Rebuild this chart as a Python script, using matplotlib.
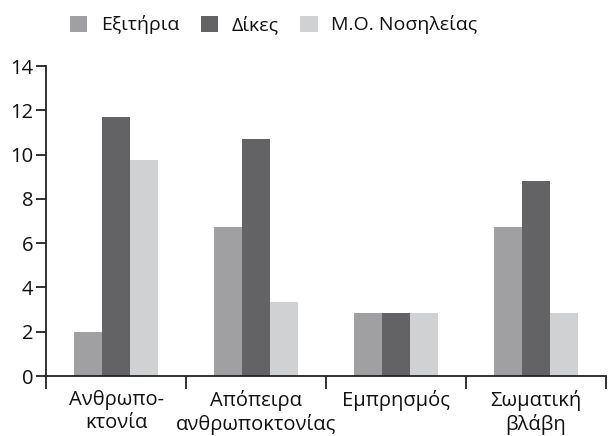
import matplotlib
matplotlib.use("Agg")
import matplotlib.pyplot as plt
import numpy as np

plt.rcParams['font.family'] = ['Open Sans', 'DejaVu Sans']

categories = ["Ανθρωπο-\nκτονία", "Απόπειρα\nανθρωποκτονίας", "Εμπρησμός", "Σωματική\nβλάβη"]
series_names = ["Εξιτήρια", "Δίκες", "Μ.Ο. Νοσηλείας"]
exitiria = [2.0, 6.75, 2.85, 6.75]
dikes = [11.7, 10.7, 2.85, 8.8]
mo_nosileias = [9.75, 3.35, 2.85, 2.85]
colors = ["#a0a0a3", "#636365", "#d0d1d3"]

fig = plt.figure(figsize=(6.08, 4.36), dpi=100)
ax = fig.add_axes([0.0757, 0.1376, 0.921, 0.711])

x = np.arange(len(categories))
w = 0.2
for i, (vals, name) in enumerate(zip([exitiria, dikes, mo_nosileias], series_names)):
    ax.bar(x + (i - 1) * w, vals, w, color=colors[i], label=name, linewidth=0)

ax.set_xlim(-0.5, 3.5)
ax.set_ylim(0, 14)
ax.set_yticks(range(0, 15, 2))
ax.set_xticks(x)
ax.set_xticklabels(categories, fontsize=14.5, color="#111111", linespacing=1.2)
ax.tick_params(axis='x', length=0, pad=10)
ax.set_xticks(np.arange(-0.5, 4, 1), minor=True)
ax.tick_params(axis='x', which='minor', length=9, width=1.3, color="#222222")
ax.tick_params(axis='y', length=7, width=1.3, color="#222222", labelsize=14.5, labelcolor="#111111", pad=2)
for s in ['top', 'right']:
    ax.spines[s].set_visible(False)
for s in ['left', 'bottom']:
    ax.spines[s].set_linewidth(1.3)
    ax.spines[s].set_color("#222222")

fig.legend(loc='center', bbox_to_anchor=(0.45, 0.943), ncol=3, frameon=False,
           fontsize=14, handlelength=0.9, handleheight=0.9, handletextpad=0.7,
           columnspacing=1.1, labelcolor="#111111")

fig.savefig("out.png", dpi=100)
